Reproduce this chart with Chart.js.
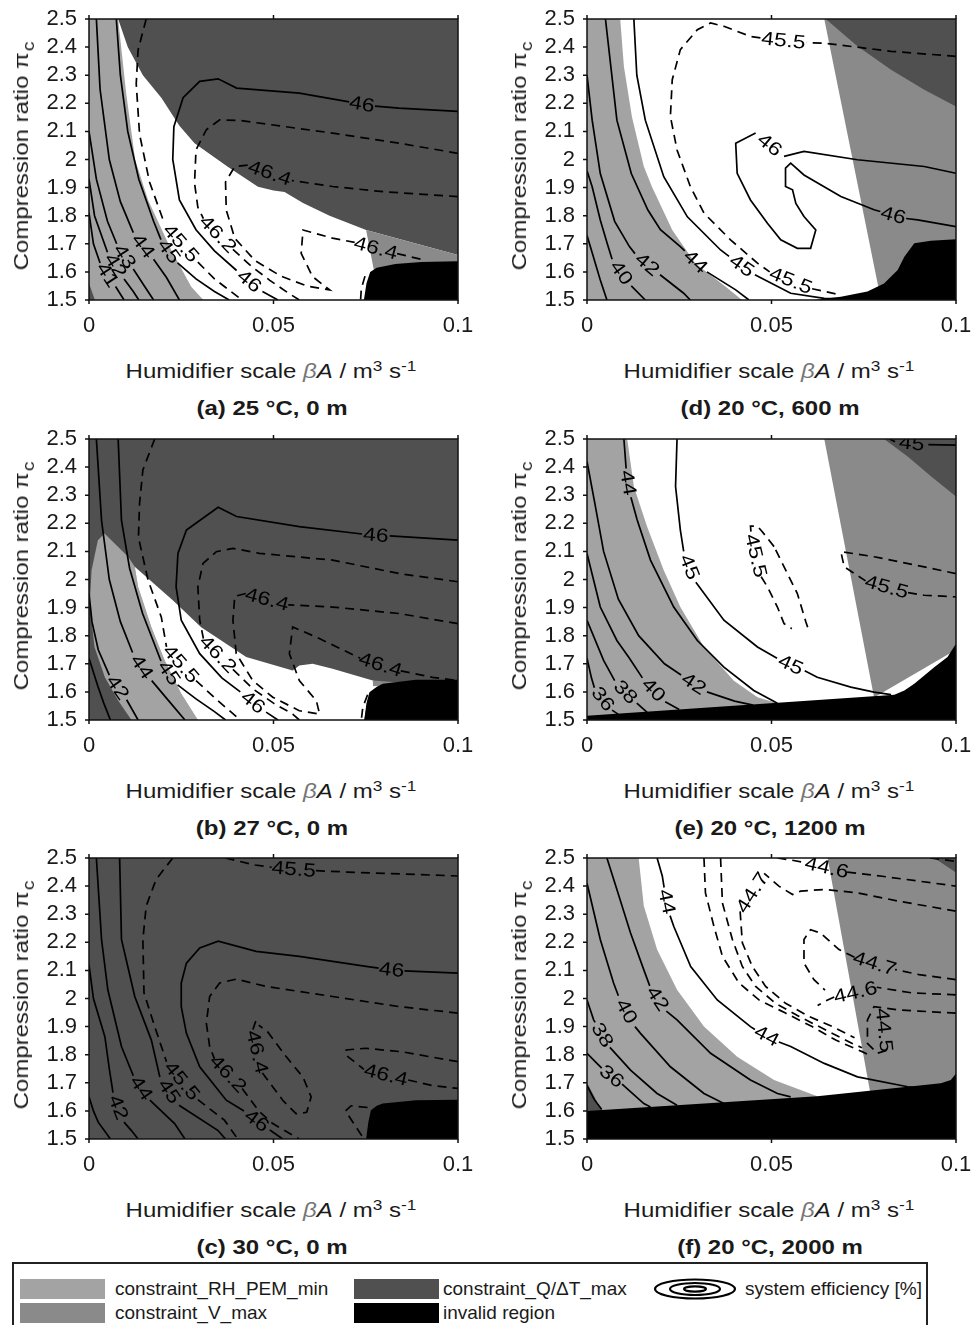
<!DOCTYPE html>
<html>
<head>
<meta charset="utf-8">
<script src="https://cdn.jsdelivr.net/npm/chart.js@4.4.1/dist/chart.umd.min.js"></script>
<style>
body { margin: 0; background: #fff; }
#page { position: relative; width: 971px; height: 1325px; overflow: hidden; font-family: "Liberation Sans", Arial, sans-serif; color: #1a1a1a; }
.panel { position: absolute; width: 454px; height: 341px; }
.t { position: absolute; white-space: nowrap; font-size: 20px; line-height: 20px; transform: translate(-50%, -50%) scaleX(1.2); }
.yt { transform: translate(-50%, -50%) rotate(-90deg) scaleX(1.2); }
.cap { font-weight: bold; }
.t sup { font-size: 0.72em; vertical-align: 0.5em; line-height: 0; }
.t sub { font-size: 0.8em; vertical-align: -0.35em; line-height: 0; margin-left: 1px; }
.t i.g { color: #777; }
#legend { position: absolute; left: 12px; top: 1262px; width: 916px; height: 72px; border: 2px solid #222; box-sizing: border-box; }
#legend .sw { position: absolute; width: 85px; height: 20px; }
#legend .lt { position: absolute; font-size: 19px; line-height: 20px; white-space: nowrap; }
#legend svg { position: absolute; }
</style>
</head>
<body>
<div id="page"></div>
<script>
// shades used in the figure
const RH = '#a3a3a3', VM = '#8a8a8a', QT = '#505050', INV = '#000000', WHITE = '#ffffff';

const xTicks = [0, 0.05, 0.1];
const xTickLabels = ['0', '0.05', '0.1'];
const yTicks = [1.5, 1.6, 1.7, 1.8, 1.9, 2.0, 2.1, 2.2, 2.3, 2.4, 2.5];
const yTickLabels = ['1.5', '1.6', '1.7', '1.8', '1.9', '2', '2.1', '2.2', '2.3', '2.4', '2.5'];

// ---- (a) 25 °C, 0 m ----  (null = gap where the contour label sits)
const aRH = [[0,1.5],[0,2.5],[0.0079,2.5],[0.0101,2.233],[0.0125,2.0],[0.016,1.856],[0.0223,1.678],[0.0277,1.547],[0.031,1.5]];
const aQT = [[0.0079,2.5],[0.1,2.5],[0.1,1.66],[0.0751,1.749],[0.0652,1.80],[0.058,1.845],[0.053,1.884],[0.05,1.89],[0.0458,1.903],[0.0376,1.974],[0.0286,2.058],[0.0245,2.12],[0.0196,2.22],[0.0146,2.3],[0.0105,2.4]];
const aCorner = [[0,1.5],[0,1.56],[0.0016,1.5]];
const aV = [[0.0751,1.749],[0.1,1.66],[0.1,1.62],[0.0773,1.6]];
const aInv = [[0.0745,1.5],[0.0752,1.56],[0.0762,1.6],[0.078,1.615],[0.083,1.628],[0.09,1.635],[0.1,1.638],[0.1,1.5]];
const a41 = [[0,1.81],[0.0012,1.7],[0.003,1.632],null,[0.0072,1.548],[0.0095,1.5]];
const a42 = [[0,1.93],[0.0015,1.8],[0.005,1.67],null,[0.0095,1.575],[0.012,1.53],[0.0135,1.5]];
const a43 = [[0,2.1],[0.002,1.93],[0.005,1.78],[0.0075,1.7],null,[0.012,1.61],[0.015,1.55],[0.0175,1.5]];
const a44 = [[0.002,2.5],[0.003,2.25],[0.0055,2.0],[0.0085,1.85],[0.012,1.74],null,[0.0175,1.645],[0.021,1.58],[0.0245,1.5]];
const a45 = [[0.0074,2.5],[0.0085,2.3],[0.0105,2.1],[0.0135,1.93],[0.0175,1.78],[0.0195,1.715],null,[0.024,1.632],[0.029,1.575],[0.034,1.53],[0.038,1.5]];
const a455 = [[0.0155,2.5],[0.0133,2.39],[0.0128,2.27],[0.0137,2.09],[0.0164,1.92],[0.0205,1.77],null,[0.0295,1.635],[0.034,1.575],[0.038,1.535],[0.0415,1.5]];
const a46 = [[0.1,2.171],[0.084,2.183],[0.0775,2.19],null,[0.0705,2.205],[0.057,2.236],[0.04,2.254],[0.035,2.287],[0.03,2.278],[0.0255,2.22],[0.023,2.117],[0.0227,2.0],[0.0245,1.856],[0.029,1.75],[0.034,1.675],[0.04,1.605],null,[0.047,1.53],[0.0512,1.5]];
const a462 = [[0.1,2.022],[0.084,2.058],[0.066,2.094],[0.0408,2.139],[0.0354,2.141],[0.0318,2.106],[0.029,2.034],[0.0286,1.916],[0.0295,1.83],[0.031,1.79],null,[0.039,1.68],[0.044,1.62],[0.049,1.57],[0.054,1.525],[0.057,1.5]];
const a464 = [[0.1,1.868],[0.08,1.885],[0.066,1.904],[0.055,1.925],null,[0.043,1.98],[0.0395,1.975],[0.037,1.92],[0.0372,1.82],[0.0395,1.72],[0.045,1.64],[0.052,1.585],[0.059,1.55],[0.0652,1.536],[0.0606,1.583],[0.0575,1.666],[0.058,1.749],[0.066,1.72],[0.072,1.705],null,[0.0835,1.665],[0.09,1.645]];
const aX = [[0.0748,1.585],[0.0738,1.54],[0.0736,1.5]];

// ---- (b) 27 °C, 0 m ----
const bRH = [[0.0115,1.5],[0.0079,1.569],[0.0043,1.652],[0.0015,1.76],[0.0002,1.915],[0.0007,2.033],[0.0024,2.14],[0.0042,2.164],[0.0106,2.081],[0.0124,2.045],[0.0133,1.974],[0.0169,1.83],[0.0205,1.712],[0.025,1.593],[0.0295,1.5]];
const bW = [[0.0124,2.045],[0.0227,1.926],[0.0304,1.83],[0.0426,1.724],[0.0552,1.676],[0.057,1.694],[0.0606,1.7],[0.066,1.682],[0.0769,1.641],[0.0796,1.629],[0.078,1.61],[0.0755,1.57],[0.0746,1.5],[0.0295,1.5],[0.025,1.593],[0.0205,1.712],[0.0169,1.83],[0.0133,1.974]];
const bV = [[0.0769,1.641],[0.085,1.633],[0.079,1.622],[0.077,1.62]];
const bInv = [[0.0746,1.5],[0.0752,1.56],[0.076,1.599],[0.078,1.618],[0.0796,1.629],[0.0886,1.643],[0.1,1.643],[0.1,1.5]];
const b41 = [[0,1.72],[0.0012,1.67],[0.0024,1.62],[0.004,1.56],[0.0058,1.5]];
const b42 = [[0,1.95],[0.0008,1.85],[0.0025,1.75],[0.0055,1.66],null,[0.0102,1.572],[0.0133,1.5]];
const b44 = [[0.002,2.5],[0.0034,2.21],[0.0055,2.0],[0.0085,1.85],[0.0118,1.74],null,[0.017,1.64],[0.0215,1.57],[0.026,1.5]];
const b45 = [[0.0079,2.5],[0.0088,2.21],[0.011,2.04],[0.0145,1.88],[0.0195,1.71],null,[0.024,1.625],[0.029,1.575],[0.034,1.53],[0.037,1.5]];
const b455 = [[0.0178,2.5],[0.0146,2.39],[0.0137,2.27],[0.0134,2.15],[0.016,1.998],[0.0196,1.866],[0.021,1.76],null,[0.029,1.64],[0.0349,1.569],[0.041,1.5]];
const b46 = [[0.1,2.14],[0.0815,2.155],null,[0.074,2.162],[0.057,2.188],[0.04,2.224],[0.035,2.257],[0.0264,2.176],[0.0241,2.093],[0.0236,1.974],[0.025,1.855],[0.03,1.736],[0.036,1.65],[0.041,1.6],null,[0.048,1.528],[0.0512,1.5]];
const b462 = [[0.1,1.992],[0.0841,2.021],[0.066,2.069],[0.0462,2.093],[0.039,2.111],[0.0345,2.099],[0.0309,2.057],[0.0295,1.974],[0.03,1.855],[0.031,1.79],null,[0.039,1.68],[0.0445,1.61],[0.05,1.56],[0.0552,1.521],[0.057,1.5]];
const b464 = [[0.1,1.843],[0.084,1.879],[0.066,1.902],[0.054,1.91],null,[0.0425,1.95],[0.0395,1.94],[0.039,1.855],[0.0399,1.736],[0.0444,1.64],[0.0498,1.581],[0.057,1.533],[0.0625,1.521],[0.0616,1.569],[0.057,1.64],[0.0543,1.736],[0.0552,1.831],[0.0616,1.795],[0.0735,1.72],null,[0.0845,1.675],[0.0931,1.652],[0.1,1.64]];
const bX = [[0.0755,1.59],[0.0742,1.545],[0.0738,1.5]];

// ---- (c) 30 °C, 0 m ----
const cInv = [[0.0751,1.5],[0.0757,1.56],[0.0764,1.602],[0.078,1.618],[0.0796,1.626],[0.0886,1.638],[0.1,1.64],[0.1,1.5]];
const c41 = [[0,1.65],[0.0012,1.6],[0.0025,1.56],[0.0058,1.5]];
const c42 = [[0,2.12],[0.0012,2.0],[0.0043,1.864],[0.0055,1.75],[0.0065,1.665],null,[0.0095,1.56],[0.0115,1.53],[0.0133,1.5]];
const c44 = [[0.002,2.5],[0.0034,2.21],[0.0051,2.031],[0.0088,1.829],[0.012,1.725],null,[0.0165,1.638],[0.0232,1.555],[0.026,1.5]];
const c45 = [[0.0083,2.5],[0.0088,2.21],[0.0124,2.007],[0.0169,1.852],[0.0192,1.72],null,[0.0244,1.62],[0.0349,1.531],[0.037,1.5]];
const c455 = [[0.0227,2.5],[0.0182,2.424],[0.0155,2.329],[0.0146,2.21],[0.0149,2.02],[0.0178,1.9],[0.021,1.775],null,[0.0295,1.64],[0.0367,1.567],[0.0403,1.5]];
const c455b = [[0.037,2.5],[0.045,2.475],[0.0495,2.467],null,[0.0615,2.455],[0.07,2.45],[0.1,2.436]];
const c46 = [[0.1,2.09],[0.0855,2.098],null,[0.0785,2.108],[0.0751,2.114],[0.057,2.15],[0.0453,2.168],[0.035,2.204],[0.03,2.18],[0.0264,2.126],[0.025,2.055],[0.025,1.971],[0.0264,1.876],[0.03,1.757],[0.0372,1.638],[0.042,1.6],null,[0.049,1.532],[0.0525,1.5]];
const c462 = [[0.1,1.948],[0.0841,1.971],[0.066,2.007],[0.048,2.043],[0.0399,2.069],[0.0354,2.055],[0.0327,2.007],[0.0318,1.912],[0.0327,1.829],[0.034,1.785],null,[0.0415,1.68],[0.046,1.6],[0.0498,1.555],[0.057,1.5]];
const c464 = [[0.0452,1.92],[0.0443,1.885],null,[0.047,1.735],[0.0525,1.638],[0.0561,1.59],[0.059,1.595],[0.0602,1.65],[0.058,1.72],[0.053,1.8],[0.0485,1.88],[0.046,1.905]];
const c464b = [[0.1,1.775],[0.085,1.81],[0.075,1.823],[0.0697,1.817],[0.0695,1.8],[0.0745,1.748],null,[0.0865,1.71],[0.0931,1.69],[0.1,1.68]];
const cX = [[0.0755,1.612],[0.071,1.618],[0.0695,1.6],[0.072,1.55],[0.0745,1.5]];

// ---- (d) 20 °C, 600 m ----
const dRH = [[0,1.5],[0,2.5],[0.009,2.5],[0.01,2.331],[0.0122,2.15],[0.0154,1.975],[0.0176,1.903],[0.0231,1.749],[0.0294,1.63],[0.0376,1.547],[0.042,1.5]];
const dV = [[0.0643,2.5],[0.1,2.5],[0.1,1.7],[0.0792,1.53]];
const dQT = [[0.0647,2.5],[0.1,2.5],[0.1,2.189],[0.0914,2.248],[0.0824,2.319],[0.0733,2.403]];
const dInv = [[0.0615,1.5],[0.0688,1.512],[0.076,1.53],[0.0805,1.559],[0.0842,1.607],[0.086,1.654],[0.0887,1.702],[0.0932,1.711],[0.1,1.716],[0.1,1.5]];
const d38 = [[0,1.73],[0.0009,1.69],[0.0036,1.571],[0.0054,1.5]];
const d40 = [[0,1.96],[0.0014,1.903],[0.0036,1.785],[0.0055,1.7],[0.0068,1.645],null,[0.012,1.55],[0.0158,1.5]];
const d42 = [[0,2.3],[0.0014,2.14],[0.0036,1.95],[0.0075,1.78],[0.0115,1.69],[0.013,1.665],null,[0.0198,1.59],[0.0262,1.524],[0.028,1.5]];
const d44 = [[0.005,2.5],[0.0081,2.14],[0.012,1.95],[0.0165,1.82],[0.0199,1.75],[0.0253,1.69],[0.0265,1.675],null,[0.0325,1.6],[0.0403,1.536],[0.0439,1.5]];
const d45 = [[0.0127,2.5],[0.0135,2.3],[0.0158,2.14],[0.0208,1.939],[0.0272,1.796],[0.0362,1.678],[0.0385,1.655],null,[0.0455,1.59],[0.0552,1.524],[0.0643,1.506],[0.068,1.505]];
const d455 = [[0.1,2.367],[0.0824,2.385],[0.0643,2.414],[0.0595,2.416],null,[0.047,2.433],[0.0443,2.438],[0.0371,2.474],[0.0335,2.486],[0.0299,2.462],[0.0253,2.391],[0.0231,2.284],[0.0226,2.153],[0.0244,2.034],[0.028,1.904],[0.0317,1.809],[0.0389,1.714],[0.0462,1.631],[0.0495,1.6],null,[0.061,1.54],[0.0688,1.518]];
const d46 = [[0.1,1.951],[0.0914,1.975],[0.0733,1.999],[0.0588,2.029],[0.0534,2.011],null,[0.0457,2.094],[0.0403,2.058],[0.0407,1.951],[0.0443,1.856],[0.0489,1.773],[0.0525,1.714],[0.057,1.684],[0.0606,1.684],[0.062,1.749],[0.0588,1.797],[0.0566,1.844],[0.0557,1.892],[0.0538,1.904],[0.0538,1.969],[0.0552,1.987],[0.0588,1.945],[0.0688,1.868],[0.0778,1.821],[0.0795,1.815],null,[0.0865,1.79],[0.0896,1.785],[0.1,1.761]];

// ---- (e) 20 °C, 1200 m ----
const eRH = [[0,1.5],[0,2.5],[0.0109,2.5],[0.0127,2.331],[0.0163,2.188],[0.0208,2.033],[0.0253,1.902],[0.0317,1.76],[0.0398,1.64],[0.0462,1.581],[0.0516,1.56],[0.0516,1.5]];
const eV = [[0.0643,2.5],[0.1,2.5],[0.1,1.75],[0.0778,1.58]];
const eQT = [[0.0805,2.5],[0.1,2.5],[0.1,2.295],[0.0932,2.367],[0.0869,2.438]];
const eInv = [[0,1.5],[0,1.515],[0.0805,1.587],[0.0833,1.59],[0.086,1.605],[0.0887,1.629],[0.0914,1.658],[0.0941,1.688],[0.0977,1.724],[0.1,1.771],[0.1,1.5]];
const e36 = [[0,1.72],[0.0012,1.65],[0.002,1.615],null,[0.0068,1.535],[0.0085,1.52]];
const e38 = [[0,1.855],[0.0045,1.712],[0.0075,1.64],null,[0.0135,1.56],[0.0163,1.527]];
const e40 = [[0,2.093],[0.0036,1.902],[0.0081,1.783],[0.0115,1.72],[0.015,1.65],null,[0.0212,1.565],[0.025,1.537]];
const e42 = [[0,2.42],[0.002,2.28],[0.0045,2.1],[0.0085,1.93],[0.014,1.8],[0.021,1.7],[0.0255,1.66],null,[0.0325,1.6],[0.04,1.567],[0.045,1.553]];
const e44 = [[0.01,2.5],[0.0106,2.395],null,[0.0119,2.293],[0.0136,2.212],[0.0172,2.069],[0.0235,1.902],[0.0299,1.783],[0.0371,1.688],[0.0452,1.605],[0.0516,1.56]];
const e45 = [[0.0244,2.5],[0.024,2.331],[0.0253,2.176],[0.0262,2.1],null,[0.0295,1.99],[0.0371,1.855],[0.0462,1.76],[0.0515,1.72],null,[0.059,1.675],[0.0624,1.652],[0.0715,1.617],[0.0778,1.599],[0.0824,1.59]];
const e455 = [[0.0507,2.117],[0.0475,2.17],[0.0462,2.19],[0.0443,2.19],[0.0445,2.16],null,[0.0472,2.01],[0.0489,1.974],[0.0516,1.902],[0.0534,1.843],[0.0555,1.825]];
const e455c = [[0.0598,1.83],[0.0593,1.85],[0.057,1.95],[0.0525,2.069],[0.0507,2.117]];
const e455b = [[0.1,2.021],[0.0914,2.045],[0.0778,2.081],[0.0688,2.099],[0.0697,2.045],[0.0755,1.995],null,[0.087,1.953],[0.0914,1.944],[0.1,1.938]];
const e45t = [[0.082,2.5],[0.0835,2.49],null,[0.0925,2.48],[0.1,2.478]];

// ---- (f) 20 °C, 2000 m ----
const fRH = [[0,1.5],[0,2.5],[0.014,2.5],[0.0154,2.329],[0.019,2.174],[0.0244,2.031],[0.0317,1.9],[0.0407,1.793],[0.0507,1.71],[0.0624,1.652],[0.0624,1.5]];
const fV = [[0.0652,2.5],[0.1,2.5],[0.1,1.7],[0.0769,1.655]];
const fQT = [[0.0941,2.5],[0.1,2.5],[0.1,2.448]];
const fQT2 = [[0,1.6],[0,1.7],[0.004,1.6]];
const fInv = [[0,1.5],[0,1.6],[0.0624,1.652],[0.0869,1.686],[0.0959,1.698],[0.0986,1.71],[0.1,1.733],[0.1,1.5]];
const f35 = [[0,1.69],[0.002,1.64],[0.004,1.605]];
const f36 = [[0,1.805],[0.0027,1.769],[0.004,1.752],null,[0.0095,1.695],[0.0154,1.626],[0.0172,1.614]];
const f38 = [[0,1.995],[0.0018,1.924],[0.0022,1.915],null,[0.0062,1.826],[0.0118,1.745],[0.019,1.662],[0.0244,1.62]];
const f40 = [[0,2.41],[0.0036,2.21],[0.0072,2.055],[0.0085,2.01],null,[0.013,1.9],[0.0145,1.876],[0.0226,1.757],[0.0317,1.662],[0.0371,1.626]];
const f42 = [[0.0054,2.5],[0.0081,2.388],[0.0118,2.233],[0.0154,2.102],[0.017,2.045],null,[0.0215,1.955],[0.0244,1.924],[0.0335,1.805],[0.0443,1.71],[0.0516,1.662],[0.0552,1.65]];
const f44 = [[0.019,2.5],[0.0204,2.436],[0.0209,2.395],null,[0.0225,2.295],[0.0235,2.257],[0.0281,2.114],[0.0353,1.995],[0.0443,1.9],[0.0455,1.89],null,[0.052,1.845],[0.0552,1.829],[0.0643,1.769],[0.0733,1.721],[0.0869,1.686],[0.0885,1.684]];
const f445 = [[0.0317,2.5],[0.0321,2.376],[0.0344,2.257],[0.0367,2.15],[0.0412,2.055],[0.0466,1.995],[0.0538,1.948],[0.061,1.9],[0.0674,1.852],[0.0747,1.81],[0.077,1.795]];
const f446 = [[0.0362,2.5],[0.0367,2.34],[0.0394,2.21],[0.0421,2.114],[0.0457,2.043],[0.0511,1.983],[0.0575,1.936],[0.0647,1.888],[0.0719,1.84],[0.0745,1.825]];
const f447 = [[0.1,2.311],[0.085,2.345],[0.0733,2.376],[0.0643,2.388],[0.0579,2.382],[0.0557,2.37],[0.052,2.4],[0.048,2.445],null,[0.0415,2.31],[0.0421,2.198],[0.0448,2.114],[0.0484,2.043],[0.0538,1.983],[0.0602,1.936],[0.0665,1.9],[0.0701,1.876],[0.0725,1.86]];
const f446t = [[0.0516,2.5],[0.0552,2.493],[0.0595,2.483],null,[0.0705,2.45],[0.08,2.435],[0.1,2.4]];
const f44tr = [[0.093,2.5],[0.1,2.488]];
const f447b = [[0.1,2.067],[0.09,2.085],[0.0835,2.103],null,[0.0725,2.147],[0.0683,2.174],[0.0633,2.233],[0.0606,2.245],[0.0588,2.21],[0.0588,2.126],[0.0615,2.067],[0.0645,2.03]];
const f446b = [[0.1,2.013],[0.088,2.02],[0.0785,2.04],null,[0.067,2.005],[0.0645,1.99],[0.0625,1.975]];
const f445b = [[0.1,1.948],[0.09,1.955],[0.0842,1.96],[0.0778,1.971],[0.076,1.924],[0.076,1.84],[0.0787,1.805],[0.0812,1.815],null,[0.08,1.96]];

const panels = [
  { left: 89, top: 19, cap: '(a) 25 °C, 0 m', base: WHITE,
    regions: [[RH, aRH], [QT, aQT], [QT, aCorner], [VM, aV], [INV, aInv]],
    lines: [['41', 0, a41], ['42', 0, a42], ['43', 0, a43], ['44', 0, a44], ['45', 0, a45], ['45.5', 1, a455],
            ['46', 0, a46], ['46.2', 1, a462], ['46.4', 1, a464], ['46.2', 1, aX]] },
  { left: 89, top: 439, cap: '(b) 27 °C, 0 m', base: QT,
    regions: [[RH, bRH], [WHITE, bW], [VM, bV], [INV, bInv]],
    lines: [['41', 0, b41], ['42', 0, b42], ['44', 0, b44], ['45', 0, b45], ['45.5', 1, b455],
            ['46', 0, b46], ['46.2', 1, b462], ['46.4', 1, b464], ['46.2', 1, bX]] },
  { left: 89, top: 858, cap: '(c) 30 °C, 0 m', base: QT,
    regions: [[INV, cInv]],
    lines: [['41', 0, c41], ['42', 0, c42], ['44', 0, c44], ['45', 0, c45], ['45.5', 1, c455], ['45.5', 1, c455b],
            ['46', 0, c46], ['46.2', 1, c462], ['46.4', 1, c464], ['46.4', 1, c464b], ['46.2', 1, cX]] },
  { left: 587, top: 19, cap: '(d) 20 °C, 600 m', base: WHITE,
    regions: [[RH, dRH], [VM, dV], [QT, dQT], [INV, dInv]],
    lines: [['38', 0, d38], ['40', 0, d40], ['42', 0, d42], ['44', 0, d44], ['45', 0, d45], ['45.5', 1, d455], ['46', 0, d46]] },
  { left: 587, top: 439, cap: '(e) 20 °C, 1200 m', base: WHITE,
    regions: [[RH, eRH], [VM, eV], [QT, eQT], [INV, eInv]],
    lines: [['36', 0, e36], ['38', 0, e38], ['40', 0, e40], ['42', 0, e42], ['44', 0, e44], ['45', 0, e45],
            ['45.5', 1, e455], ['45.5', 1, e455c], ['45.5', 1, e455b], ['45', 0, e45t]] },
  { left: 587, top: 858, cap: '(f) 20 °C, 2000 m', base: WHITE,
    regions: [[RH, fRH], [VM, fV], [QT, fQT], [QT, fQT2], [INV, fInv]],
    lines: [['35', 0, f35], ['36', 0, f36], ['38', 0, f38], ['40', 0, f40], ['42', 0, f42], ['44', 0, f44],
            ['44.5', 1, f445], ['44.6', 1, f446], ['44.7', 1, f447], ['44.6', 1, f446t], ['44.6', 1, f44tr],
            ['44.7', 1, f447b], ['44.6', 1, f446b], ['44.5', 1, f445b]] }
];

function toXY(arr) {
  return arr.map(p => (p ? { x: p[0], y: p[1] } : { x: null, y: null }));
}

// background of the plot box, inline contour labels, frame and ticks
const framePlugin = {
  id: 'frame',
  beforeDraw(chart, args, opts) {
    const a = chart.chartArea, ctx = chart.ctx;
    ctx.save();
    ctx.fillStyle = opts.base;
    ctx.fillRect(a.left, a.top, a.right - a.left, a.bottom - a.top);
    ctx.restore();
  },
  afterDatasetsDraw(chart) {
    const ctx = chart.ctx, a = chart.chartArea;
    const sx = chart.scales.x, sy = chart.scales.y;
    ctx.save();
    ctx.beginPath();
    ctx.rect(a.left, a.top, a.right - a.left, a.bottom - a.top);
    ctx.clip();
    ctx.font = '19px "Liberation Sans", Arial, sans-serif';
    ctx.fillStyle = '#000';
    ctx.textAlign = 'center';
    ctx.textBaseline = 'middle';
    chart.data.datasets.forEach(ds => {
      if (!ds.lvl) return;
      ds.data.forEach((pt, k) => {
        if (pt.x !== null || k === 0 || k === ds.data.length - 1) return;
        const p0 = ds.data[k - 1], p1 = ds.data[k + 1];
        const x0 = sx.getPixelForValue(p0.x), y0 = sy.getPixelForValue(p0.y);
        const x1 = sx.getPixelForValue(p1.x), y1 = sy.getPixelForValue(p1.y);
        let ang = Math.atan2(y1 - y0, x1 - x0);
        if (ang > Math.PI / 2) ang -= Math.PI;
        if (ang < -Math.PI / 2) ang += Math.PI;
        ctx.save();
        ctx.translate((x0 + x1) / 2, (y0 + y1) / 2);
        ctx.rotate(ang);
        ctx.scale(1.2, 1);
        ctx.fillText(ds.lvl, 0, 1);
        ctx.restore();
      });
    });
    ctx.restore();

    ctx.save();
    ctx.strokeStyle = '#111';
    ctx.lineWidth = 1.5;
    ctx.strokeRect(a.left, a.top, a.right - a.left, a.bottom - a.top);
    ctx.beginPath();
    xTicks.forEach(v => {
      const px = sx.getPixelForValue(v);
      ctx.moveTo(px, a.bottom); ctx.lineTo(px, a.bottom + 4);
      ctx.moveTo(px, a.top); ctx.lineTo(px, a.top - 4);
    });
    yTicks.forEach(v => {
      const py = sy.getPixelForValue(v);
      ctx.moveTo(a.left, py); ctx.lineTo(a.left - 4, py);
    });
    ctx.stroke();
    ctx.restore();
  }
};

const page = document.getElementById('page');
const tickFont = { family: '"Liberation Sans", Arial, sans-serif', size: 22 };

function addText(cls, html, cx, cy) {
  const d = document.createElement('div');
  d.className = 't ' + cls;
  d.innerHTML = html;
  d.style.left = cx + 'px';
  d.style.top = cy + 'px';
  page.appendChild(d);
}

panels.forEach(p => {
  const box = document.createElement('div');
  box.className = 'panel';
  box.style.left = (p.left - 60) + 'px';
  box.style.top = (p.top - 20) + 'px';
  const cv = document.createElement('canvas');
  cv.width = 454;
  cv.height = 341;
  box.appendChild(cv);
  page.appendChild(box);

  const datasets = [];
  p.regions.forEach((r, i) => {
    datasets.push({
      data: toXY(r[1]), showLine: true, fill: 'shape', backgroundColor: r[0],
      borderColor: 'rgba(0,0,0,0)', borderWidth: 0, pointRadius: 0, order: 100 - i
    });
  });
  p.lines.forEach(l => {
    datasets.push({
      data: toXY(l[2]), showLine: true, fill: false, borderColor: '#000', borderWidth: 1.7,
      borderDash: l[1] ? [9, 6] : [], pointRadius: 0, spanGaps: false, order: 0, lvl: l[0]
    });
  });

  new Chart(cv, {
    type: 'scatter',
    data: { datasets: datasets },
    options: {
      responsive: false,
      animation: false,
      events: [],
      layout: { padding: { left: 10, top: 20, right: 25, bottom: 0 } },
      plugins: { legend: { display: false }, tooltip: { enabled: false }, frame: { base: p.base } },
      scales: {
        x: {
          type: 'linear', min: 0, max: 0.1,
          afterBuildTicks: s => { s.ticks = xTicks.map(v => ({ value: v })); },
          afterFit: s => { s.height = 40; },
          grid: { display: false }, border: { display: false },
          ticks: { callback: (v, i) => xTickLabels[i], font: tickFont, color: '#1a1a1a', padding: 5, maxRotation: 0, autoSkip: false }
        },
        y: {
          type: 'linear', min: 1.5, max: 2.5,
          afterBuildTicks: s => { s.ticks = yTicks.map(v => ({ value: v })); },
          afterFit: s => { s.width = 50; },
          grid: { display: false }, border: { display: false },
          ticks: { callback: (v, i) => yTickLabels[i], font: tickFont, color: '#1a1a1a', padding: 4, autoSkip: false }
        }
      }
    },
    plugins: [framePlugin]
  });

  addText('yt', 'Compression ratio&nbsp;π<sub>c</sub>', p.left - 68, p.top + 137);
  addText('', 'Humidifier scale <i class="g">β</i><i>A</i> / m<sup>3</sup> s<sup>-1</sup>', p.left + 182, p.top + 352);
  addText('cap', p.cap, p.left + 183, p.top + 389);
});

// legend
const legendItems = [
  ['sw', RH, 6, 15, 'constraint_RH_PEM_min', 101, 15],
  ['sw', QT, 340, 15, 'constraint_Q/ΔT_max', 429, 15],
  ['icon', null, 638, 14, 'system efficiency [%]', 731, 15],
  ['sw', VM, 6, 39, 'constraint_V_max', 101, 39],
  ['sw', INV, 340, 39, 'invalid region', 429, 39]
];
const lg = document.createElement('div');
lg.id = 'legend';
legendItems.forEach(it => {
  if (it[0] === 'sw') {
    const s = document.createElement('div');
    s.className = 'sw';
    s.style.left = it[2] + 'px'; s.style.top = it[3] + 'px'; s.style.background = it[1];
    lg.appendChild(s);
  } else {
    const ns = 'http://www.w3.org/2000/svg';
    const svg = document.createElementNS(ns, 'svg');
    svg.setAttribute('width', '86'); svg.setAttribute('height', '22');
    svg.style.left = it[2] + 'px'; svg.style.top = it[3] + 'px';
    [[40, 9.5], [25, 6], [11, 2.6]].forEach(r => {
      const e = document.createElementNS(ns, 'ellipse');
      e.setAttribute('cx', '43'); e.setAttribute('cy', '11');
      e.setAttribute('rx', r[0]); e.setAttribute('ry', r[1]);
      e.setAttribute('fill', 'none'); e.setAttribute('stroke', '#000'); e.setAttribute('stroke-width', '2.2');
      svg.appendChild(e);
    });
    lg.appendChild(svg);
  }
  const t = document.createElement('div');
  t.className = 'lt';
  t.textContent = it[4];
  t.style.left = it[5] + 'px'; t.style.top = it[6] + 'px';
  lg.appendChild(t);
});
page.appendChild(lg);
</script>
</body>
</html>
